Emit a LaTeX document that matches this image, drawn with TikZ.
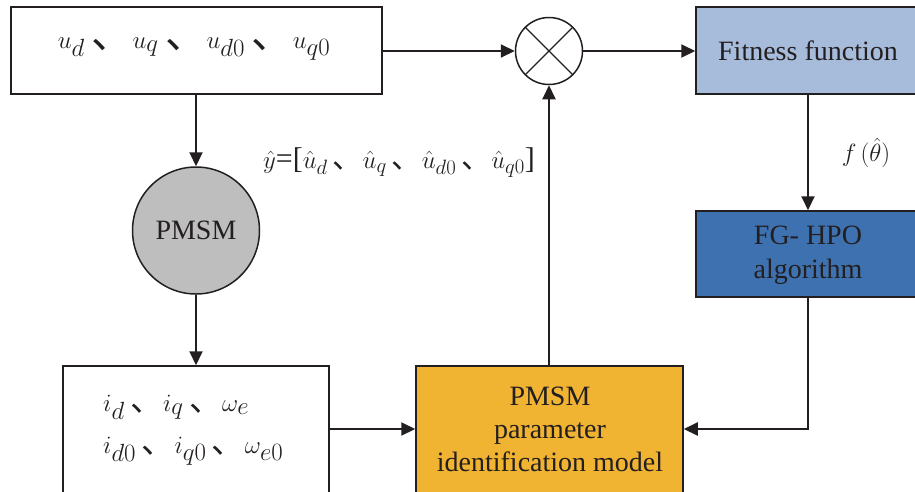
\documentclass[tikz,border=0pt]{standalone}
\usepackage{fontspec}
\setmainfont{Liberation Serif}
\newfontfamily\tnr{Liberation Serif}
\newfontfamily\cjk{Noto Sans CJK SC}
\usetikzlibrary{arrows.meta,calc}
\newcommand\dun{{\cjk\,、}}
\definecolor{txt}{HTML}{231F20}
\definecolor{fitc}{HTML}{A7BBDB}
\definecolor{fgc}{HTML}{3E71B0}
\definecolor{modc}{HTML}{F0B332}
\definecolor{pmc}{HTML}{BEBEBE}
\begin{document}
\begin{tikzpicture}[x=1pt,y=-1pt,
  box/.style={draw=txt,line width=1.5pt,rectangle,inner sep=0pt},
  conn/.style={draw=txt,line width=2pt,-{Triangle[length=14pt,width=13pt]}},
  lbl/.style={text=txt,font=\tnr\fontsize{28}{33}\selectfont,align=center,inner sep=0pt},
  mth/.style={text=txt,font=\fontsize{34}{40}\selectfont,inner sep=0pt}]
\useasboundingbox (0,0) rectangle (915,491);
\clip (0,0) rectangle (915,491);
% nodes
\node[box,minimum width=371pt,minimum height=87pt] (top) at (196.5,50.5) {};
\node[mth,font=\fontsize{41}{46}\selectfont] (toptxt) at (194,49) {$u_d$\dun$u_q$\dun$u_{d0}$\dun$u_{q0}$};
\node[draw=txt,line width=1.5pt,circle,minimum size=67pt,inner sep=0pt] (mult) at (549,51) {};
\draw[txt,line width=1.3pt] (mult.north west) -- (mult.south east) (mult.north east) -- (mult.south west);
\node[box,fill=fitc,minimum width=224pt,minimum height=87pt] (fit) at (808,50.5) {};
\node[lbl] (fittxt) at (808,51) {Fitness function};
\node[box,fill=fgc,minimum width=224pt,minimum height=86pt] (fg) at (808,254) {};
\node[lbl,font=\tnr\fontsize{28}{34}\selectfont] (fgtxt) at (808,255) {FG- HPO\\algorithm};
\node[draw=txt,line width=1.5pt,circle,fill=pmc,minimum size=127pt,inner sep=0pt,text=txt,font=\tnr\fontsize{28}{33}\selectfont] (pmsm) at (196,230.5) {PMSM};
\node[box,minimum width=266pt,minimum height=154pt] (left) at (196,443) {};
\node[mth,anchor=west,align=left,font=\fontsize{33}{42}\selectfont] (lefttxt) at (103,430) {$i_d$\dun$i_q$\dun$\omega_e$\\$i_{d0}$\dun$i_{q0}$\dun$\omega_{e0}$};
\node[box,fill=modc,minimum width=267pt,minimum height=154pt] (model) at (549.5,443) {};
\node[lbl,font=\tnr\fontsize{28}{33}\selectfont] (modtxt) at (550,429) {PMSM\\parameter\\identification model};
\node[mth,font=\fontsize{30}{36}\selectfont] (yhat) at (399,163) {$\hat{y}$=[$\hat{u}_d$\dun$\hat{u}_q$\dun$\hat{u}_{d0}$\dun$\hat{u}_{q0}$]};
\node[mth,font=\fontsize{40}{44}\selectfont] (ftheta) at (866,153) {$f\,(\hat{\theta})$};
\coordinate (mid) at (0,429);
% connectors
\draw[conn] (top.east |- mult.west) -- (mult.west);
\draw[conn] (mult.east) -- (fit.west |- mult.east);
\draw[conn] (fit.south) -- (fg.north);
\draw[conn] (fg.south) |- (model.east |- mid);
\draw[conn] (model.north -| mult.south) -- (mult.south);
\draw[conn] (top.south -| pmsm.north) -- (pmsm.north);
\draw[conn] (pmsm.south) -- (left.north -| pmsm.south);
\draw[conn] (left.east |- mid) -- (model.west |- mid);
\end{tikzpicture}
\end{document}
